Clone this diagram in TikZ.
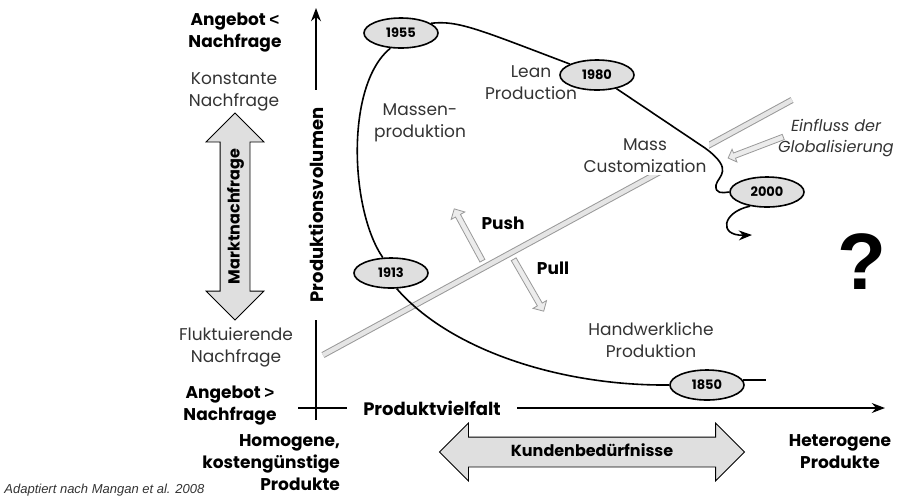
\documentclass[tikz,border=0pt]{standalone}
\usepackage{fontspec}
\setmainfont{Poppins}
\newfontfamily\arialfont{Liberation Sans}
\usepackage{tikz}
\usetikzlibrary{shapes, arrows.meta, positioning, calc}

\tikzset{
  yearnode/.style={ellipse, draw, thick, fill=gray!25, minimum width=37pt, minimum height=15pt, inner sep=0pt, font=\fontsize{6.5}{7}\selectfont\bfseries},
  plaintext/.style={align=center, text=black!80, font=\fontsize{8.5}{11}\selectfont},
  boldtext/.style={align=center, font=\fontsize{8.5}{11}\selectfont\bfseries},
  bigarrow/.style={double arrow, draw, fill=gray!25, double arrow tip angle=90, double arrow head extend=7pt, inner xsep=0pt, inner ysep=3.5pt, text height=6pt, text depth=1.5pt, font=\fontsize{8}{10}\selectfont\bfseries},
  thinarrow/.style={single arrow, draw=gray!80, fill=gray!15, single arrow head extend=2.5pt, minimum width=3pt, inner sep=1.2pt},
  curveline/.style={thick, line join=round}
}

\begin{document}
\begin{tikzpicture}[x=0.5pt, y=-0.5pt]
  % 画布大小
  \useasboundingbox (0,0) rectangle (899,500);
  % 坐标轴
  \coordinate (yb) at (316,420);
  \coordinate (yt) at (316,8);
  \coordinate (xl) at (298,408);
  \coordinate (xr) at (885,408);
  \draw[thick, -Stealth] (yb) -- (yt);
  \draw[thick, -Stealth] (xl) -- (xr);
  \node[boldtext, rotate=90, fill=white, inner xsep=9pt, font=\fontsize{9}{11}\selectfont\bfseries] (ylab) at (316,205) {Produktionsvolumen};
  \node[boldtext, fill=white, inner xsep=8pt, font=\fontsize{9}{11}\selectfont\bfseries] (xlab) at (432,408) {Produktvielfalt};
  % 左侧标注
  \node[boldtext] (ango) at (235,33) {Angebot {\arialfont\bfseries<}\\Nachfrage};
  \node[plaintext] (konst) at (234,92) {Konstante\\Nachfrage};
  \node[bigarrow, rotate=90, minimum height=103.5pt] (markt) at (235,216.5) {Marktnachfrage};
  \node[plaintext] (flukt) at (236,347) {Fluktuierende\\Nachfrage};
  \node[boldtext] (angu) at (230,406) {Angebot {\arialfont\bfseries>}\\Nachfrage};
  % 底部标注
  \node[boldtext, align=right, anchor=east] (homog) at (347,463) {Homogene,\\kostengünstige\\Produkte};
  \node[bigarrow, minimum height=152.5pt] (kunden) at (592,452) {Kundenbedürfnisse};
  \node[boldtext] (heterog) at (840,452) {Heterogene\\Produkte};
  \node[anchor=west, font=\arialfont\itshape\fontsize{6.5}{8}\selectfont, text=black!80, inner sep=0pt] (quelle) at (4,490) {Adaptiert nach Mangan et al. 2008};
  % 斜线（Push/Pull 分界）
  \coordinate (rails) at (323,355);
  \coordinate (raile) at (792,100);
  \draw[gray!80, double=gray!20, double distance=2.2pt, line width=0.5pt] (rails) -- (raile);
  \node[thinarrow, minimum height=29.5pt, rotate=118.5] (push) at (469,236) {};
  \node[thinarrow, minimum height=30pt, rotate=-60] (pull) at (528,284) {};
  \node[boldtext] (pushlab) at (503,223) {Push};
  \node[boldtext] (pulllab) at (553,268) {Pull};
  \node[plaintext, fill=white, inner sep=1pt] (mc) at (645,156) {Mass\\Customization};
  % 年份
  \node[yearnode] (n1955) at (401,33) {1955};
  \node[yearnode] (n1980) at (597,75) {1980};
  \node[yearnode] (n2000) at (767,192) {2000};
  \node[yearnode] (n1913) at (391,273) {1913};
  \node[yearnode] (n1850) at (707,385) {1850};
  % 发展曲线
  \draw[curveline] (n1850.8) -- ++(23,0);
  \draw[curveline] (n1850.west) .. controls (560,386) and (450,350) .. (n1913.-70);
  \draw[curveline] (n1913.118) .. controls (350,210) and (345,85) .. (n1955.235);
  \draw[curveline] (n1955.18) .. controls (458,20) and (480,30) .. (n1980.158);
  \draw[curveline] (n1980.-35) -- (705,148) .. controls (735,170) and (718,176) .. (716,185) .. controls (715,194) and (722,193) .. (n2000.west);
  \coordinate (fut) at (752,235);
  \draw[curveline, -Stealth] (n2000.-140) .. controls (722,212) and (718,236) .. (fut);
  % 区域文字
  \node[plaintext] (massen) at (420,123) {Massen-\\produktion};
  \node[plaintext] (lean) at (531,83) {Lean\\Production};
  \node[plaintext] (handw) at (651,340) {Handwerkliche\\Produktion};
  \node[plaintext, font=\fontsize{8}{10.5}\selectfont\itshape] (global) at (836,138) {Einfluss der\\Globalisierung};
  \node[thinarrow, minimum height=29.5pt, minimum width=2pt, single arrow head extend=2pt, rotate=200.9] (einfl) at (757,147) {};
  \node[font=\arialfont\fontsize{40}{42}\selectfont\bfseries] (frage) at (862,262) {?};
\end{tikzpicture}
\end{document}
